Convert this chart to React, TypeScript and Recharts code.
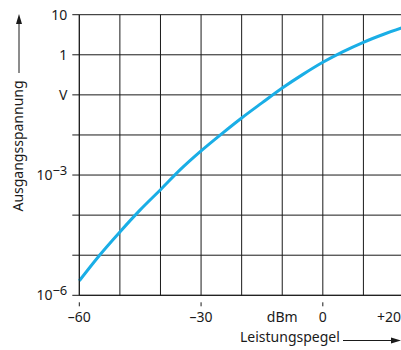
import { LineChart, Line, XAxis, YAxis, CartesianGrid } from "recharts";

// Leistungspegel in dBm
const pegel = [-60, -55, -50, -45, -40, -35, -30, -25, -20, -15, -10, -5, 0, 5, 10, 15, 20];
// Ausgangsspannung in V
const spannung = [
  2.3e-6, 1.0e-5, 3.8e-5, 1.35e-4, 4.3e-4, 1.4e-3, 4.0e-3, 1.05e-2, 2.65e-2, 6.3e-2, 0.148, 0.32,
  0.65, 1.2, 2.05, 3.25, 4.9,
];

const xTicks = [-60, -50, -40, -30, -20, -10, 0, 10, 20];
const xLabels: Record<number, string> = { [-60]: "–60", [-30]: "–30", [-10]: "dBm", 0: "0", 20: "+20" };
const yTicks = [1e-6, 1e-5, 1e-4, 1e-3, 1e-2, 1e-1, 1, 10];
const yLabels: Record<string, [string, string]> = {
  "10": ["10", ""],
  "1": ["1", ""],
  "0.1": ["V", ""],
  "0.001": ["10", "−3"],
  "0.000001": ["10", "−6"],
};

const data = pegel.map((p, i) => ({ p, u: spannung[i] }));

const FONT = "'Noto Sans', sans-serif";
const INK = "#1a1a1a";

const XTick = (props: any) => {
  const { x, y, payload } = props;
  const label = xLabels[payload.value];
  if (label === undefined) return null;
  // last label sits at the right edge, keep it inside the picture
  const last = payload.value === 20;
  return (
    <g>
      {label !== "dBm" && <line x1={x} x2={x} y1={y - 1} y2={y + 3} stroke={INK} strokeWidth={1} />}
      <text
        x={last ? x - 3 : x}
        y={y + 19}
        textAnchor={last ? "end" : "middle"}
        fontSize={14}
        fill={INK}
        fontFamily={FONT}
      >
        {label}
      </text>
    </g>
  );
};

const YTick = (props: any) => {
  const { x, y, payload } = props;
  const lab = yLabels[String(payload.value)];
  if (!lab) return null;
  return (
    <text x={x} y={y + 5} textAnchor="end" fontSize={14} fill={INK} fontFamily={FONT}>
      {lab[0]}
      {lab[1] && (
        <tspan dy={-5} fontSize={13}>
          {lab[1]}
        </tspan>
      )}
    </text>
  );
};

export default function App() {
  return (
    <div style={{ position: "absolute", left: 0, top: 0, width: 401, height: 350, overflow: "hidden", background: "#fff" }}>
      <LineChart
        width={420}
        height={350}
        data={data}
        margin={{ top: 14.7, right: 16, left: 0, bottom: 24.7 }}
      >
        <CartesianGrid stroke={INK} strokeWidth={1} horizontalValues={yTicks} verticalValues={xTicks} />
        <XAxis
          dataKey="p"
          type="number"
          domain={[-60, 20]}
          ticks={xTicks}
          interval={0}
          axisLine={{ stroke: INK }}
          tickLine={false}
          tick={<XTick />}
          height={30}
        />
        <YAxis
          type="number"
          scale="log"
          domain={[1e-6, 10]}
          ticks={yTicks}
          interval={0}
          allowDataOverflow
          axisLine={{ stroke: INK }}
          tickLine={{ stroke: INK }}
          tickSize={7}
          tickMargin={5}
          tick={<YTick />}
          width={79.3}
        />
        <Line
          dataKey="u"
          type="monotone"
          stroke="#1aaee6"
          strokeWidth={3}
          dot={false}
          isAnimationActive={false}
        />
      </LineChart>
      <svg
        width={401}
        height={350}
        style={{ position: "absolute", left: 0, top: 0, pointerEvents: "none" }}
      >
        <text
          transform="translate(23,146) rotate(-90)"
          textAnchor="middle"
          fontSize={14}
          fill={INK}
          fontFamily={FONT}
        >
          Ausgangsspannung
        </text>
        <line x1={19} x2={19} y1={73} y2={22} stroke={INK} strokeWidth={1} />
        <polygon points="19,14 16,24 22,24" fill={INK} />
        <text x={240} y={342} fontSize={14} fill={INK} fontFamily={FONT}>
          Leistungspegel
        </text>
        <line x1={343} x2={392} y1={340.5} y2={340.5} stroke={INK} strokeWidth={1} />
        <polygon points="401,340.5 391,337.5 391,343.5" fill={INK} />
      </svg>
    </div>
  );
}
